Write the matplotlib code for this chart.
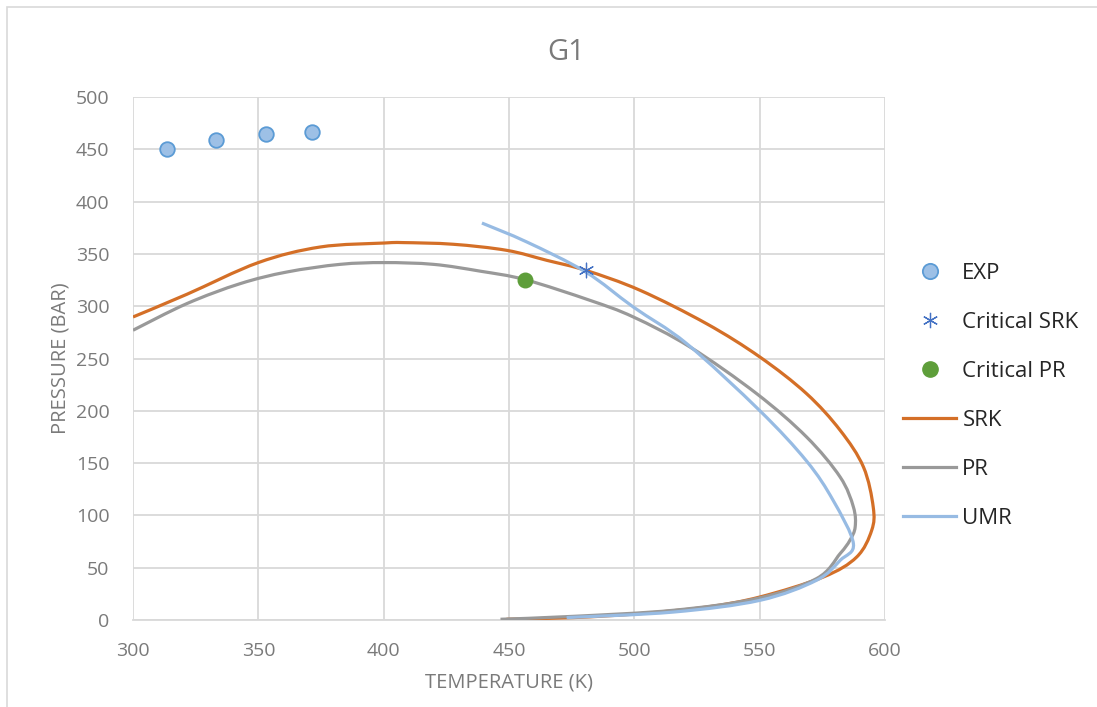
import matplotlib
matplotlib.use("Agg")
import numpy as np
import matplotlib.pyplot as plt
from matplotlib.lines import Line2D
from matplotlib.patches import Rectangle, PathPatch
from matplotlib.path import Path

plt.rcParams['font.family'] = ['Open Sans', 'DejaVu Sans']

# Experimental points
exp_T = [313.6, 333.2, 352.9, 371.6]
exp_P = [450.0, 458.6, 465.0, 466.5]

# Critical points
crit_srk_T, crit_srk_P = [480.6], [334.3]
crit_pr_T, crit_pr_P = [456.4], [325.4]

# SRK phase envelope
srk_T = [300.0, 321.5, 350.0, 374.7, 400.2, 407.9, 427.8, 449.1, 465.0, 480.6,
         502.3, 528.8, 550.1, 568.7, 582.1, 591.4, 595.3, 594.7, 588.7, 575.4,
         550.1, 528.8, 502.3, 475.7, 449.0]
srk_P = [289.7, 311.4, 341.7, 356.6, 360.4, 360.8, 359.2, 353.4, 343.9, 334.3,
         315.2, 283.3, 251.4, 216.4, 181.4, 146.3, 108.0, 85.8, 60.2, 41.1,
         22.0, 12.4, 6.1, 2.3, 0.7]

# PR phase envelope
pr_T = [300.0, 321.5, 342.8, 361.4, 382.6, 400.2, 419.9, 438.5, 456.4, 482.3,
        499.6, 522.2, 548.8, 568.7, 582.1, 587.4, 588.1, 586.0, 582.1, 572.7,
        548.8, 515.6, 475.7, 446.6]
pr_P = [277.0, 302.5, 321.6, 332.7, 340.0, 341.7, 340.0, 333.5, 325.4, 305.6,
        289.7, 261.0, 216.4, 175.0, 136.7, 108.0, 88.9, 76.2, 63.5, 39.6,
        20.5, 9.3, 3.5, 0.7]

# UMR phase envelope
umr_T = [439.2, 457.1, 480.6, 499.6, 520.9, 550.1, 568.7, 579.3, 587.4, 582.1,
         572.7, 550.1, 515.6, 473.0]
umr_P = [379.5, 361.4, 332.7, 299.2, 264.2, 200.0, 152.0, 114.4, 73.0, 57.0,
         38.0, 18.8, 7.6, 2.3]

x_ticks = [300, 350, 400, 450, 500, 550, 600]
y_ticks = [0, 50, 100, 150, 200, 250, 300, 350, 400, 450, 500]

text_grey = '#7a7a7a'
grid_grey = '#d9d9d9'
c_srk = '#D46F27'
c_pr = '#999999'
c_umr = '#97BBE3'


def smooth_line(ax, xs, ys, **kw):
    """Draw a smoothed line through the points (Catmull-Rom as cubic Beziers),
    computed in display space so the curvature looks even on screen."""
    pts = ax.transData.transform(np.column_stack([xs, ys]))
    n = len(pts)
    verts = [pts[0]]
    codes = [Path.MOVETO]
    t = 1.0 / 6.0
    for i in range(n - 1):
        p0 = pts[i - 1] if i > 0 else pts[i]
        p1, p2 = pts[i], pts[i + 1]
        p3 = pts[i + 2] if i + 2 < n else pts[i + 1]
        c1 = p1 + (p2 - p0) * t
        c2 = p2 - (p3 - p1) * t
        verts += [c1, c2, p2]
        codes += [Path.CURVE4] * 3
    patch = PathPatch(Path(verts, codes), fill=False, transform=None,
                      capstyle='butt', joinstyle='round', **kw)
    patch.set_clip_path(ax.patch)
    ax.add_artist(patch)
    return patch


fig = plt.figure(figsize=(10.97, 7.07), dpi=100)
ax = fig.add_axes([133 / 1097, 1 - 620 / 707, (885 - 133) / 1097, (620 - 97) / 707])

# thin chart-area frame
fig.patches.append(Rectangle((7 / 1097, -0.1), 1.2, 1 - 7 / 707 + 0.1,
                             transform=fig.transFigure, fill=False,
                             edgecolor=grid_grey, linewidth=1.2))

ax.set_xlim(300, 600)
ax.set_ylim(0, 500)
ax.set_xticks(x_ticks)
ax.set_yticks(y_ticks)

smooth_line(ax, srk_T, srk_P, edgecolor=c_srk, linewidth=2.3, zorder=3)
smooth_line(ax, pr_T, pr_P, edgecolor=c_pr, linewidth=2.3, zorder=4)
smooth_line(ax, umr_T, umr_P, edgecolor=c_umr, linewidth=2.3, zorder=5)

ax.scatter(exp_T, exp_P, s=110, facecolor='#9DC0E6', edgecolor='#5B9BD5',
           linewidth=1.3, zorder=6)
ax.scatter(crit_srk_T, crit_srk_P, s=110, marker=(6, 2, 0), color='#4472C4',
           linewidth=0.9, zorder=6)
ax.scatter(crit_pr_T, crit_pr_P, s=110, color='#5E9E3A', zorder=7)

ax.grid(True, color=grid_grey, linewidth=1.3)
ax.set_axisbelow(True)
for s in ['top', 'right', 'left']:
    ax.spines[s].set_visible(False)
ax.spines['bottom'].set_color(grid_grey)
ax.spines['bottom'].set_linewidth(1.3)
ax.tick_params(length=0, labelsize=14, labelcolor=text_grey)
ax.tick_params(axis='x', pad=15.5)
ax.tick_params(axis='y', pad=17)

ax.set_xlabel('TEMPERATURE (K)', fontsize=14.5, color=text_grey, labelpad=9)
ax.set_ylabel('PRESSURE (BAR)', fontsize=14.5, color=text_grey, labelpad=4)
fig.text(566 / 1097, 1 - 52 / 707, 'G1', fontsize=21, color=text_grey,
         ha='center', va='center')

handles = [
    Line2D([], [], ls='none', marker='o', markersize=11, markerfacecolor='#9DC0E6',
           markeredgecolor='#5B9BD5', markeredgewidth=1.3),
    Line2D([], [], ls='none', marker=(6, 2, 0), markersize=11, color='#4472C4',
           markeredgewidth=0.9),
    Line2D([], [], ls='none', marker='o', markersize=11, color='#5E9E3A'),
    Line2D([], [], color=c_srk, lw=2.3),
    Line2D([], [], color=c_pr, lw=2.3),
    Line2D([], [], color=c_umr, lw=2.3),
]
labels = ['EXP', 'Critical SRK', 'Critical PR', 'SRK', 'PR', 'UMR']
leg = fig.legend(handles, labels, loc='upper left',
                 bbox_to_anchor=(883 / 1097, 1 - 243 / 707), frameon=False,
                 fontsize=16, labelspacing=1.26, handlelength=2.4,
                 handletextpad=0.27)
for t in leg.get_texts():
    t.set_color('#262626')

fig.savefig('out.png', dpi=100, facecolor='white')
